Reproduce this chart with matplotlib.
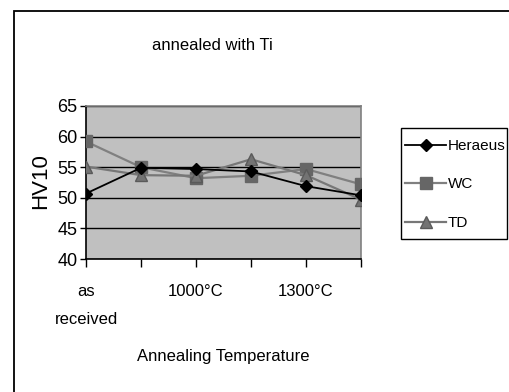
import matplotlib
matplotlib.use("Agg")
import matplotlib.pyplot as plt
from matplotlib.patches import Rectangle

plt.rcParams['font.family'] = ['Liberation Sans', 'DejaVu Sans']

# Hardness after annealing with Ti
tick_labels = ["as\nreceived", "", "1000°C", "", "1300°C", ""]
heraeus = [50.7, 54.9, 54.7, 54.3, 51.9, 50.4]
wc = [59.2, 55.0, 53.2, 53.6, 54.7, 52.2]
td = [55.1, 53.7, 53.6, 56.3, 53.7, 49.7]

W, H = 509, 392
fig = plt.figure(figsize=(W / 100, H / 100), dpi=100)
fig.patch.set_facecolor('white')

# outer chart frame (runs off the right and bottom edges)
fig.patches.append(Rectangle((13.5 / W, -0.1), 1.2, 1 - 10.5 / H + 0.1,
                             transform=fig.transFigure, fill=False,
                             edgecolor='black', linewidth=1.3))

ax = fig.add_axes([86 / W, 1 - 259 / H, (361 - 86) / W, (259 - 106) / H])
ax.set_facecolor('#c0c0c0')

x = list(range(len(tick_labels)))
ax.plot(x, heraeus, color='black', lw=1.3, marker='D', ms=6,
        mfc='black', mec='black', label='Heraeus', zorder=5)
ax.plot(x, wc, color='#808080', lw=1.6, marker='s', ms=8,
        mfc='#666666', mec='#666666', label='WC', zorder=3)
ax.plot(x, td, color='#777777', lw=1.6, marker='^', ms=9,
        mfc='#737373', mec='#5a5a5a', label='TD', zorder=4)

ax.set_xlim(0, 5)
ax.set_ylim(40, 65)
ax.set_yticks([40, 45, 50, 55, 60, 65])
ax.set_xticks(x)
ax.set_xticklabels(tick_labels, fontsize=12, linespacing=2.1)
ax.tick_params(axis='y', labelsize=13, length=4, width=1, pad=2)
ax.tick_params(axis='x', length=6, width=1, pad=12)
ax.yaxis.grid(True, color='black', lw=1)
ax.set_axisbelow(True)

for s in ('left', 'bottom'):
    ax.spines[s].set_color('black')
    ax.spines[s].set_linewidth(1.2)
for s in ('top', 'right'):
    ax.spines[s].set_color('#808080')
    ax.spines[s].set_linewidth(1.2)

ax.set_ylabel('HV10', fontsize=16)
ax.yaxis.set_label_coords(-0.125, 0.51)
fig.text(212 / W, 1 - 46 / H, 'annealed with Ti', fontsize=12,
         ha='center', va='center')
fig.text(223 / W, 1 - 357 / H, 'Annealing Temperature', fontsize=12,
         ha='center', va='center')

# legend box
fig.patches.append(Rectangle((401 / W, 1 - 239 / H), 106 / W, 111 / H,
                             transform=fig.transFigure, fill=False,
                             edgecolor='black', linewidth=1.0))
leg = fig.legend(loc='upper left', bbox_to_anchor=(405 / W, 1 - 139 / H),
                 fontsize=11, frameon=False, borderaxespad=0, borderpad=0,
                 handlelength=2.7, handletextpad=0.1, labelspacing=1.6)

fig.savefig('out.png', dpi=100, facecolor='white')
